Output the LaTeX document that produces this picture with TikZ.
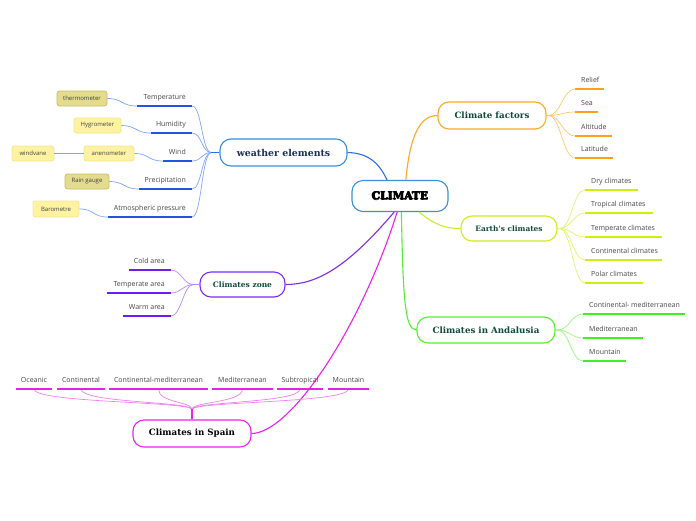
\documentclass[tikz,border=0pt]{standalone}
\usepackage{fontspec}
\setmainfont{Open Sans}
\newfontfamily\titlefont{DejaVu Serif}
\newfontfamily\heavyfont{DejaVu Serif}
\definecolor{cBlue}{HTML}{3B8FD6}
\definecolor{wLine}{HTML}{2A6FE8}
\definecolor{wUl}{HTML}{2255DD}
\definecolor{wBr}{HTML}{7FA5FF}
\definecolor{wTxt}{HTML}{1C2F5E}
\definecolor{fLine}{HTML}{FFA726}
\definecolor{fUl}{HTML}{FF9F1C}
\definecolor{fBr}{HTML}{FFC870}
\definecolor{eLine}{HTML}{CCEE22}
\definecolor{eUl}{HTML}{CCEE11}
\definecolor{eBr}{HTML}{E0F570}
\definecolor{aLine}{HTML}{55EE33}
\definecolor{aUl}{HTML}{44EE22}
\definecolor{aBr}{HTML}{99F580}
\definecolor{zLine}{HTML}{7B2CF5}
\definecolor{zUl}{HTML}{6A1EF0}
\definecolor{zBr}{HTML}{B48CFF}
\definecolor{sLine}{HTML}{F020F0}
\definecolor{sUl}{HTML}{E81FE8}
\definecolor{sBr}{HTML}{F080F0}
\definecolor{gTxt}{HTML}{124A3A}
\definecolor{yFill}{HTML}{FFF3A3}
\definecolor{yLine}{HTML}{F5E68A}
\definecolor{oFill}{HTML}{E3DC8E}
\definecolor{oLine}{HTML}{C9BF64}
\tikzset{
  mainbox/.style={draw, rounded corners=11pt, line width=1.1pt, fill=white, inner sep=0pt,
    font=\titlefont\bfseries\fontsize{8.7}{10}\selectfont},
  leaf/.style={font=\fontsize{7}{8}\selectfont, text=black!72, inner xsep=6pt, inner ysep=0pt,
    text height=7pt, text depth=6.5pt},
  tool/.style={draw, rounded corners=2.5pt, line width=0.8pt, inner sep=0pt,
    font=\fontsize{6}{7}\selectfont, text=black!75},
  yel/.style={tool, fill=yFill, draw=yLine},
  oli/.style={tool, fill=oFill, draw=oLine},
  ul/.style={line width=1.6pt, draw=#1},
  br/.style={line width=0.7pt, draw=#1},
  trunk/.style={line width=1.1pt, draw=#1}
}
\newcommand\fattext[1]{\rlap{#1}\rlap{\kern0.45pt#1}\rlap{\raisebox{0.35pt}{\kern0.45pt#1}}\rlap{\raisebox{-0.35pt}{\kern0.45pt#1}}\kern0.9pt#1}
\newcommand\lleaf[5]{\node[leaf, anchor=south west] (#1) at (#2,#3) {\makebox[\dimexpr#4pt-12pt\relax][l]{#5}};}
\newcommand\rleaf[5]{\node[leaf, anchor=south east] (#1) at (#2,#3) {\makebox[\dimexpr#4pt-12pt\relax][r]{#5}};}
\newcommand\cleaf[5]{\node[leaf, anchor=south] (#1) at (#2,#3) {\makebox[\dimexpr#4pt-12pt\relax][c]{#5}};}
\begin{document}
\begin{tikzpicture}[x=1pt,y=-1pt]
\fill[white] (0,0) rectangle (696,520);
\useasboundingbox (0,0) rectangle (696,520);

% ---- main nodes
\node[mainbox, draw=cBlue, minimum width=96pt, minimum height=31pt, font=\heavyfont\bfseries\fontsize{10.6}{12}\selectfont] (cl) at (400,196) {\fattext{CLIMATE}};
\node[mainbox, draw=cBlue, minimum width=127pt, minimum height=27pt, text=wTxt, font=\titlefont\bfseries\fontsize{9.4}{10}\selectfont] (we) at (283.5,152.5) {weather elements};
\node[mainbox, draw=fLine, minimum width=108pt, minimum height=27pt, text=gTxt] (fa) at (492,115.5) {Climate factors};
\node[mainbox, draw=eLine, minimum width=96pt, minimum height=25pt, text=gTxt, font=\titlefont\bfseries\fontsize{7.4}{8}\selectfont] (ea) at (509,228.5) {Earth's climates};
\node[mainbox, draw=aLine, minimum width=138pt, minimum height=26pt, text=gTxt] (an) at (486,330) {Climates in Andalusia};
\node[mainbox, draw=zLine, minimum width=85pt, minimum height=25pt, text=gTxt, font=\titlefont\bfseries\fontsize{7.5}{8}\selectfont] (zo) at (242.5,284.5) {Climates zone};
\node[mainbox, draw=sLine, minimum width=118pt, minimum height=27pt, text=black] (sp) at (192,433.5) {Climates in Spain};

% ---- trunks from CLIMATE
\draw[trunk=wLine] (cl.129) .. controls (380,165) and (370,153) .. (we.east);
\draw[trunk=fLine] (cl.70) .. controls (410,135) and (420,115.5) .. (fa.west);
\draw[trunk=eLine] (cl.-40) .. controls (435,225) and (445,228.5) .. (ea.west);
\draw[trunk=aLine] (cl.-85) .. controls (403,300) and (405,330) .. (an.west);
\draw[trunk=zLine] (cl.-110) .. controls (345,270) and (315,284.5) .. (zo.east);
\draw[trunk=sLine] (cl.-100) .. controls (360,330) and (290,433.5) .. (sp.east);

% ---- weather elements
\rleaf{wt}{192}{106}{55}{Temperature}
\rleaf{wh}{192}{133}{41}{Humidity}
\rleaf{ww}{192}{161}{29}{Wind}
\rleaf{wp}{192}{189}{53}{Precipitation}
\rleaf{wa}{192}{217}{84}{Atmospheric pressure}
\foreach \n in {wt,wh,ww,wp,wa}{
  \draw[br=wBr] (we.west) -- ++(-8,0) .. controls +(-10,0) and +(10,0) .. (\n.south east);
  \draw[ul=wUl] (\n.south west) -- (\n.south east);
}
\draw[line width=1.1pt, wLine] (we.west) -- ++(-8,0);

\node[oli, minimum width=50pt, minimum height=15pt] (th) at (82,98.5) {thermometer};
\node[yel, minimum width=47pt, minimum height=15pt] (hy) at (97.5,125.5) {Hygrometer};
\node[yel, minimum width=50pt, minimum height=15pt] (ane) at (109,153.5) {anenometer};
\node[yel, minimum width=42pt, minimum height=15pt] (wv) at (33,153.5) {windvane};
\node[oli, minimum width=44pt, minimum height=15pt] (rg) at (87,181.5) {Rain gauge};
\node[yel, minimum width=46pt, minimum height=16pt] (ba) at (56,209) {Barometre};
\draw[br=wBr] (th.east) .. controls +(15,0) and +(-15,0) .. (wt.south west);
\draw[br=wBr] (hy.east) .. controls +(15,0) and +(-15,0) .. (wh.south west);
\draw[br=wBr] (ane.east) .. controls +(15,0) and +(-15,0) .. (ww.south west);
\draw[br=wBr] (rg.east) .. controls +(15,0) and +(-15,0) .. (wp.south west);
\draw[br=wBr] (ba.east) .. controls +(15,0) and +(-15,0) .. (wa.south west);
\draw[br=wBr] (wv.east) -- (ane.west);

% ---- climate factors
\lleaf{fr}{575}{89}{29}{Relief}
\lleaf{fs}{575}{112}{23}{Sea}
\lleaf{fal}{575}{136}{37}{Altitude}
\lleaf{fl}{575}{158}{38}{Latitude}
\foreach \n in {fr,fs,fal,fl}{
  \draw[br=fBr] (fa.east) -- ++(2,0) .. controls +(12,0) and +(-12,0) .. (\n.south west);
  \draw[ul=fUl] (\n.south west) -- (\n.south east);
}

% ---- earth's climates
\lleaf{e1}{585}{190}{53}{Dry climates}
\lleaf{e2}{585}{213}{68}{Tropical climates}
\lleaf{e3}{585}{237}{77}{Temperate climates}
\lleaf{e4}{585}{260}{77}{Continental climates}
\lleaf{e5}{585}{283}{58}{Polar climates}
\foreach \n in {e1,e2,e3,e4,e5}{
  \draw[br=eBr] (ea.east) -- ++(2,0) .. controls +(12,0) and +(-12,0) .. (\n.south west);
  \draw[ul=eUl] (\n.south west) -- (\n.south east);
}

% ---- climates in Andalusia
\lleaf{a1}{583}{314}{102}{Continental- mediterranean}
\lleaf{a2}{583}{338}{60}{Mediterranean}
\lleaf{a3}{583}{361}{43}{Mountain}
\foreach \n in {a1,a2,a3}{
  \draw[br=aBr] (an.east) -- ++(2,0) .. controls +(12,0) and +(-12,0) .. (\n.south west);
  \draw[ul=aUl] (\n.south west) -- (\n.south east);
}

% ---- climates zone
\rleaf{z1}{171}{270}{42}{Cold area}
\rleaf{z2}{171}{293}{64}{Temperate area}
\rleaf{z3}{171}{316}{48}{Warm area}
\foreach \n in {z1,z2,z3}{
  \draw[br=zBr] (zo.west) -- ++(-6,0) .. controls +(-10,0) and +(10,0) .. (\n.south east);
  \draw[ul=zUl] (\n.south west) -- (\n.south east);
}

% ---- climates in Spain
\cleaf{s1}{34}{389}{36}{Oceanic}
\cleaf{s2}{81}{389}{48}{Continental}
\cleaf{s3}{158.5}{389}{99}{Continental-mediterranean}
\cleaf{s4}{242.5}{389}{61}{Mediterranean}
\cleaf{s5}{300}{389}{46}{Subtropical}
\cleaf{s6}{348.5}{389}{41}{Mountain}
\foreach \n in {s1,s2,s3,s4,s5,s6}{
  \draw[br=sBr] (sp.north) -- ++(0,-10) .. controls +(0,-8) and +(0,14) .. (\n.south);
  \draw[ul=sUl] (\n.south west) -- (\n.south east);
}
\draw[line width=1.1pt, sLine] (sp.north) -- ++(0,-10);
\end{tikzpicture}
\end{document}
